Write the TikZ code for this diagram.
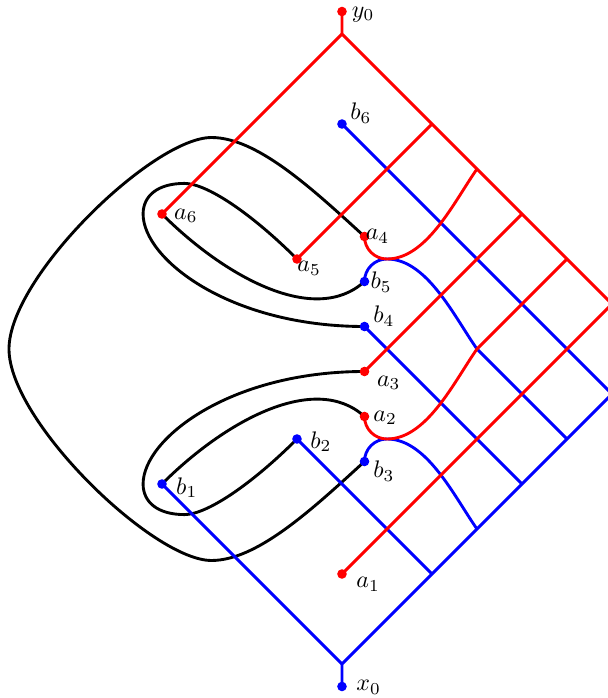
\documentclass[tikz,border=0pt]{standalone}
\begin{document}
\begin{tikzpicture}[x=0.66cm, y=0.66cm,
    redpath/.style={very thick, color=red},
    bluepath/.style={very thick, color=blue},
    blackpath/.style={very thick, color=black}]
    \useasboundingbox (-7.6,-7.756) rectangle (5.911,7.756);
    % end points
    \coordinate (y0) at (0,7.5);
    \coordinate (x0) at (0,-7.5);
    \coordinate (a1) at (0,-5);
    \coordinate (a2) at (0.5,-1.5);
    \coordinate (a3) at (0.5,-0.5);
    \coordinate (a4) at (0.5,2.5);
    \coordinate (a5) at (-1,2);
    \coordinate (a6) at (-4,3);
    \coordinate (b1) at (-4,-3);
    \coordinate (b2) at (-1,-2);
    \coordinate (b3) at (0.5,-2.5);
    \coordinate (b4) at (0.5,0.5);
    \coordinate (b5) at (0.5,1.5);
    \coordinate (b6) at (0,5);
    % points on the two long sides
    \coordinate (p0) at (0,7);
    \coordinate (p2) at (2,5);
    \coordinate (p3) at (3,4);
    \coordinate (p4) at (4,3);
    \coordinate (p5) at (5,2);
    \coordinate (p6) at (6,1);
    \coordinate (q0) at (0,-7);
    \coordinate (q2) at (2,-5);
    \coordinate (q3) at (3,-4);
    \coordinate (q4) at (4,-3);
    \coordinate (q5) at (5,-2);
    \coordinate (q6) at (6,-1);
    \coordinate (m) at (3,0);
    \coordinate (t1) at (1,2);
    \coordinate (t2) at (1,-2);

    % black arcs
    \draw[blackpath] (a6) .. controls (-2.6,1.6) and (-0.6,0.5) .. (b5);
    \draw[blackpath] (b1) .. controls (-2.6,-1.6) and (-0.6,-0.5) .. (a2);
    \draw[blackpath] (a5) .. controls (-2,3) and (-3,3.68) .. (-3.5,3.68)
        .. controls (-4.1,3.68) and (-4.42,3.4) .. (-4.42,3)
        .. controls (-4.42,2) and (-2.5,0.5) .. (b4);
    \draw[blackpath] (b2) .. controls (-2,-3) and (-3,-3.68) .. (-3.5,-3.68)
        .. controls (-4.1,-3.68) and (-4.42,-3.4) .. (-4.42,-3)
        .. controls (-4.42,-2) and (-2.5,-0.5) .. (a3);
    \draw[blackpath] (a4) .. controls (-0.7,3.6) and (-1.9,4.7) .. (-2.9,4.7)
        .. controls (-4.2,4.7) and (-7.4,1.6) .. (-7.4,0)
        .. controls (-7.4,-1.6) and (-4.2,-4.7) .. (-2.9,-4.7)
        .. controls (-1.9,-4.7) and (-0.7,-3.6) .. (b3);

    % blue tree
    \draw[bluepath] (x0) -- (q0) -- (q6);
    \draw[bluepath] (q0) -- (b1);
    \draw[bluepath] (q2) -- (b2);
    \draw[bluepath] (q4) -- (b4);
    \draw[bluepath] (q6) -- (b6);
    \draw[bluepath] (q3) to[out=125, in=0, looseness=0.8] (t2) to[out=180, in=90] (b3);
    \draw[bluepath] (q5) -- (m) to[out=125, in=0, looseness=0.8] (t1) to[out=180, in=90] (b5);

    % red tree
    \draw[redpath] (y0) -- (p0) -- (p6);
    \draw[redpath] (p0) -- (a6);
    \draw[redpath] (p2) -- (a5);
    \draw[redpath] (p4) -- (a3);
    \draw[redpath] (p6) -- (a1);
    \draw[redpath] (p3) to[out=-125, in=0, looseness=0.8] (t1) to[out=180, in=-90] (a4);
    \draw[redpath] (p5) -- (m) to[out=-125, in=0, looseness=0.8] (t2) to[out=180, in=-90] (a2);

    % dots and labels
    \fill[color=red] (y0) circle (2pt);
    \fill[color=blue] (x0) circle (2pt);
    \fill[color=red] (a1) circle (2pt);
    \fill[color=red] (a2) circle (2pt);
    \fill[color=red] (a3) circle (2pt);
    \fill[color=red] (a4) circle (2pt);
    \fill[color=red] (a5) circle (2pt);
    \fill[color=red] (a6) circle (2pt);
    \fill[color=blue] (b1) circle (2pt);
    \fill[color=blue] (b2) circle (2pt);
    \fill[color=blue] (b3) circle (2pt);
    \fill[color=blue] (b4) circle (2pt);
    \fill[color=blue] (b5) circle (2pt);
    \fill[color=blue] (b6) circle (2pt);
    \node (ly0) at (0.47,7.44) {$y_0$};
    \node (lx0) at (0.59,-7.52) {$x_0$};
    \node (la1) at (0.58,-5.23) {$a_1$};
    \node (la2) at (0.96,-1.53) {$a_2$};
    \node (la3) at (1.04,-0.75) {$a_3$};
    \node (la4) at (0.79,2.50) {$a_4$};
    \node (la5) at (-0.73,1.79) {$a_5$};
    \node (la6) at (-3.47,2.96) {$a_6$};
    \node (lb1) at (-3.45,-3.08) {$b_1$};
    \node (lb2) at (-0.47,-2.06) {$b_2$};
    \node (lb3) at (0.93,-2.72) {$b_3$};
    \node (lb4) at (0.93,0.73) {$b_4$};
    \node (lb5) at (0.87,1.49) {$b_5$};
    \node (lb6) at (0.42,5.24) {$b_6$};
\end{tikzpicture}
\end{document}
